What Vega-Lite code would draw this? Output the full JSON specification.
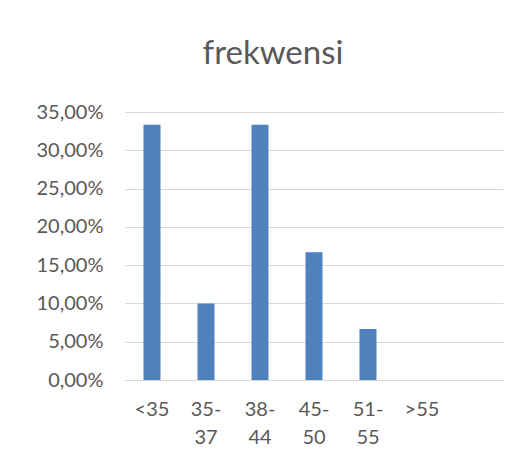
{
  "$schema": "https://vega.github.io/schema/vega-lite/v6.json",
  "autosize": "none",
  "width": 378,
  "height": 268,
  "padding": {"left": 125, "top": 112, "right": 23, "bottom": 83},
  "background": "white",
  "config": {
    "locale": {"number": {"decimal": ",", "thousands": ".", "grouping": [3], "currency": ["", " €"]}},
    "font": "Lato",
    "view": {"stroke": null}
  },
  "title": {
    "text": "frekwensi",
    "fontSize": 33,
    "fontWeight": "normal",
    "color": "#595959",
    "font": "Lato",
    "anchor": "middle",
    "dx": -41,
    "offset": 31
  },
  "data": {
    "values": [
      {"kelompok": "<35", "frekwensi": 0.3333},
      {"kelompok": "35-37", "frekwensi": 0.1},
      {"kelompok": "38-44", "frekwensi": 0.3333},
      {"kelompok": "45-50", "frekwensi": 0.1667},
      {"kelompok": "51-55", "frekwensi": 0.0667},
      {"kelompok": ">55", "frekwensi": 0},
      {"kelompok": " ", "frekwensi": 0}
    ]
  },
  "mark": {"type": "bar", "color": "#4f81bd"},
  "encoding": {
    "x": {
      "field": "kelompok",
      "type": "nominal",
      "sort": null,
      "scale": {"paddingInner": 0.685, "paddingOuter": 0.3425},
      "axis": {
        "title": null,
        "labelAngle": 0,
        "labelFontSize": 20,
        "labelColor": "#595959",
        "labelPadding": 29,
        "labelLineHeight": 28,
        "labelBaseline": "middle",
        "ticks": false,
        "domainColor": "#d9d9d9",
        "domainWidth": 1,
        "labelExpr": "indexof(datum.value, '-') > 0 ? [split(datum.value, '-')[0] + '-', split(datum.value, '-')[1]] : datum.value"
      }
    },
    "y": {
      "field": "frekwensi",
      "type": "quantitative",
      "scale": {"domain": [0, 0.35]},
      "axis": {
        "title": null,
        "format": ".2%",
        "values": [0, 0.05, 0.1, 0.15, 0.2, 0.25, 0.3, 0.35],
        "labelFontSize": 20,
        "labelColor": "#595959",
        "labelPadding": 22,
        "ticks": false,
        "domain": false,
        "gridColor": "#d9d9d9",
        "gridWidth": 1
      }
    }
  }
}
